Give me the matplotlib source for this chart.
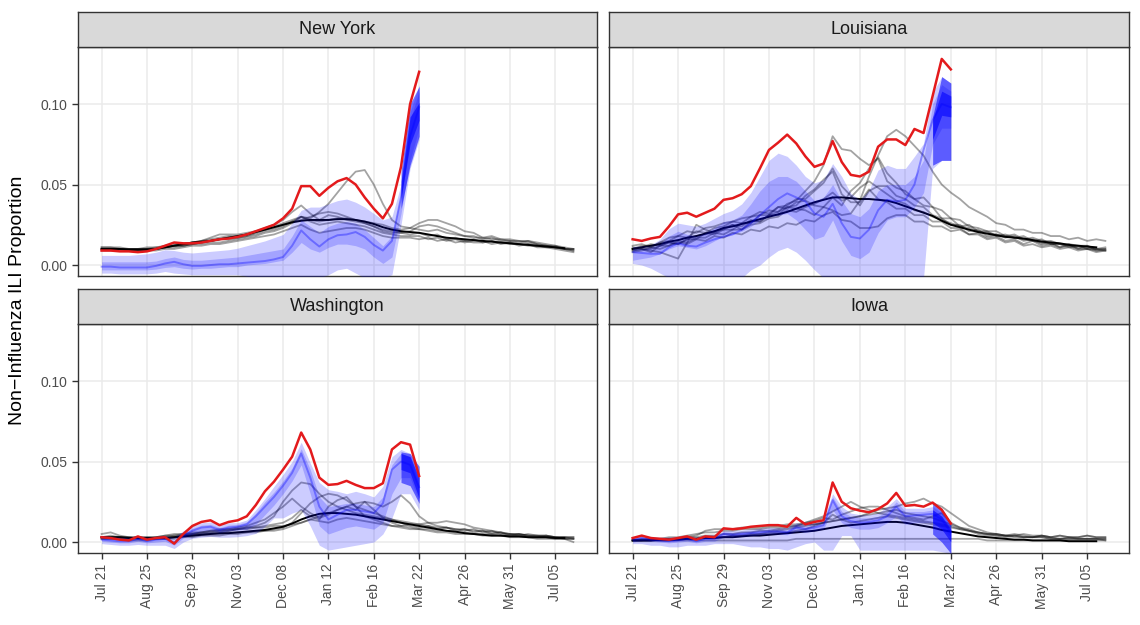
import numpy as np
import matplotlib
matplotlib.use("Agg")
import matplotlib.pyplot as plt

plt.rcParams['font.family'] = ['Liberation Sans', 'DejaVu Sans']

# ---------------- data (values in per-mille: 1 = 0.001 proportion) ----------------
states = ["New York", "Louisiana", "Washington", "Iowa"]
tick_weeks = [0, 5, 10, 15, 20, 25, 30, 35, 40, 45, 50]
tick_labels = ["Jul 21", "Aug 25", "Sep 29", "Nov 03", "Dec 08", "Jan 12",
               "Feb 16", "Mar 22", "Apr 26", "May 31", "Jul 05"]
y_ticks = [0.0, 0.05, 0.10]
deep_weeks = [33, 34, 35]

# ---- New York ----
ny_red = [9, 9, 8.5, 8.5, 8, 8.5, 10, 12, 14, 13.5, 13.5, 14, 15, 16, 16.5, 17.5, 19, 21, 23, 25,
          29, 35, 49, 49, 43, 48, 52, 54, 50, 42, 35, 29, 38, 61, 100, 120]
ny_black = [10, 10, 10, 9.5, 9.5, 9.5, 10, 11, 12, 13, 14, 14.5, 15, 16, 17, 18, 19, 20.5, 22, 23.5,
            25, 26.5, 27.5, 28, 28, 28, 28.5, 28.5, 28, 27, 25.5, 23.5, 22, 21, 20.5, 20, 19, 18, 17, 16.5,
            16, 15.5, 15, 14.5, 14, 13.5, 13, 12.5, 12, 11.5, 11, 10.5]
ny_gray1 = [11, 11, 10, 10, 10, 10, 11, 11, 12, 12, 13, 13, 14, 14, 15, 16, 17, 18, 20, 21,
            23, 26, 30, 29, 33, 38, 45, 52, 58, 59, 50, 38, 28, 24, 23, 22, 21, 22, 20, 19,
            18, 18, 16, 17, 15, 15, 14, 15, 13, 12, 12, 10, 9]
ny_gray2 = [10, 10, 10, 9, 9, 10, 10, 12, 13, 13, 14, 15, 16, 17, 18, 18, 19, 21, 23, 25,
            28, 33, 37, 32, 28, 31, 30, 28, 27, 26, 24, 22, 21, 20, 19, 20, 18, 19, 16, 17,
            15, 16, 14, 15, 14, 14, 13, 13, 12, 12, 11, 10, 10]
ny_gray3 = [11, 11, 11, 10, 10, 10, 10, 11, 12, 13, 14, 15, 17, 19, 19, 19, 20, 21, 22, 24,
            26, 28, 30, 28, 27, 28, 29, 29, 28, 27, 26, 25, 23, 22, 23, 26, 28, 28, 26, 24,
            21, 20, 17, 18, 16, 16, 15, 15, 14, 13, 12, 11, 10]
ny_gray4 = [9, 9, 9, 9, 9, 9, 9, 10, 10, 11, 12, 12, 13, 13, 14, 15, 16, 17, 18, 19,
            21, 23, 25, 22, 20, 21, 22, 23, 23, 22, 20, 18, 17, 17, 17, 16, 17, 15, 16, 14,
            15, 14, 14, 15, 13, 14, 12, 13, 11, 11, 10, 9, 8]
ny_gray5 = [10, 10, 10, 10, 10, 11, 11, 12, 12, 12, 13, 14, 15, 16, 16, 17, 18, 19, 21, 22,
            24, 27, 30, 27, 25, 26, 27, 26, 25, 24, 22, 20, 19, 18, 18, 18, 16, 17, 15, 16,
            14, 15, 15, 13, 14, 13, 13, 12, 12, 11, 11, 10, 10]
ny_gray6 = [10, 10, 10, 10, 10, 10, 10, 11, 11, 12, 13, 14, 15, 16, 17, 17, 18, 20, 22, 23,
            25, 27, 28, 30, 32, 33, 32, 30, 28, 26, 24, 21, 20, 20, 21, 24, 25, 24, 22, 20,
            18, 17, 17, 16, 16, 15, 15, 14, 13, 12, 11, 10, 9]
ny_hi_out = [6, 6, 6, 6, 6.5, 7, 8, 9.5, 9, 8, 7.5, 8, 8.5, 9, 9.5, 10.5, 12, 13.5, 15, 17,
             19, 26, 34, 36, 36, 38, 40, 41, 39, 36, 32, 28, 30, 50, 95, 112]
ny_lo_out = [-5, -5, -5.5, -5.5, -5.5, -5.5, -5, -4, -5, -5.5, -6, -6, -6, -6, -6, -6, -7, -8, -8, -8,
             -8, -8, -8, -8, -8, -6, -3, -2, -5, -8, -8, -8, -6, 25, 60, 78]
ny_lo_mid = [-3, -3, -3, -3, -3, -3, -2.5, -1.5, -1, -2, -2.5, -2, -2, -1.5, -1, -1, 0, 0.5, 1, 2,
             3, 8, 14, 10, 8, 11, 13, 13, 12, 10, 5, 1, 5, 32, 65, 85]
ny_hi_mid = [2, 2, 2, 2, 2, 2, 2.5, 4, 5, 3.5, 3, 3, 3.5, 4, 4.5, 5, 6, 7, 8, 9,
             10, 18, 28, 24, 20, 24, 26, 27, 26, 22, 17, 12, 18, 45, 90, 108]
ny_median = [-1, -1, -1.5, -1.5, -1.5, -1.5, -0.5, 1, 2, 0.5, -0.5, -0.5, 0, 0.5, 0.5, 1, 1.5, 2, 2.5, 3.5,
             5, 12, 21.5, 16, 11.5, 16, 18.5, 19, 20.5, 17.5, 12.5, 9, 15, 42, 80, 98]
ny_deep_lo = [35, 62, 80]
ny_deep_hi = [58, 100, 111]
ny_core_lo = [42, 75, 90]
ny_core_hi = [52, 92, 101]

# ---- Louisiana ----
la_red = [16, 15, 16.5, 17.5, 24, 31.5, 32.5, 30, 32.5, 35, 40.5, 41.5, 44, 49, 60, 71.5, 76, 81, 75.5, 67.5,
          61, 63, 77, 64, 56, 55, 58, 73.5, 78, 78, 74.5, 84.5, 82, 105, 128, 121.5]
la_black = [10, 11, 12, 13, 14.5, 15.5, 17, 18, 19.5, 21, 23, 24, 25.5, 27, 28.5, 30, 31.5, 33, 35, 37,
            39, 40.5, 42, 42, 41.5, 41, 41, 40.5, 40, 38.5, 36.5, 34.5, 32.5, 30.5, 27.5, 25, 23.5, 22, 20.5, 19.5,
            18.5, 17.5, 17, 16.5, 15.5, 14.5, 14, 13.5, 12.5, 12, 11.5, 11]
la_gray1 = [10, 12, 11, 14, 15, 18, 17, 21, 20, 23, 24, 27, 26, 30, 31, 34, 33, 38, 40, 46,
            52, 62, 80, 72, 71, 66, 62, 66, 52, 48, 46, 41, 42, 36, 34, 29, 28, 24, 23, 21,
            21, 18, 19, 16, 17, 15, 15, 13, 13, 12, 12, 10, 11]
la_gray2 = [12, 13, 11, 14, 17, 18, 21, 20, 23, 24, 26, 27, 29, 30, 33, 32, 36, 35, 39, 40,
            37, 36, 34, 31, 32, 40, 55, 68, 80, 84, 80, 74, 68, 58, 50, 45, 41, 36, 33, 30,
            26, 25, 22, 22, 20, 20, 18, 18, 16, 17, 15, 16, 15]
la_gray3 = [9, 10, 8, 12, 14, 13, 16, 18, 19, 21, 22, 25, 24, 28, 27, 31, 33, 36, 35, 34,
            31, 36, 42, 37, 46, 51, 60, 67, 57, 51, 44, 41, 37, 36, 29, 29, 24, 25, 21, 21,
            18, 19, 17, 18, 15, 16, 13, 13, 11, 12, 10, 10, 9]
la_gray4 = [11, 10, 9, 8, 6, 4, 14, 25, 22, 20, 23, 25, 22, 27, 27, 31, 31, 36, 37, 43,
            47, 53, 58, 44, 39, 39, 47, 41, 39, 35, 35, 31, 31, 27, 27, 23, 23, 19, 20, 17,
            18, 15, 16, 13, 15, 12, 13, 11, 12, 10, 10, 9, 9]
la_gray5 = [8, 9, 11, 10, 12, 14, 13, 16, 15, 18, 17, 20, 19, 22, 21, 24, 23, 26, 25, 28,
            27, 31, 33, 28, 27, 23, 23, 24, 29, 31, 31, 27, 27, 24, 24, 21, 22, 19, 19, 16,
            17, 14, 15, 12, 13, 11, 12, 10, 11, 9, 10, 8, 9]
la_gray6 = [10, 11, 13, 12, 14, 13, 16, 16, 20, 19, 22, 22, 26, 26, 31, 31, 36, 37, 41, 41,
            46, 51, 60, 49, 43, 37, 46, 49, 49, 43, 41, 37, 36, 31, 29, 25, 25, 21, 22, 18,
            19, 17, 18, 15, 16, 13, 14, 11, 13, 10, 12, 9, 10]
la_gray7 = [9, 10, 10, 12, 12, 15, 14, 17, 17, 20, 19, 22, 22, 25, 26, 29, 30, 34, 33, 36,
            38, 41, 45, 40, 42, 48, 52, 48, 44, 40, 38, 34, 33, 30, 28, 26, 24, 23, 21, 20,
            19, 18, 17, 16, 15, 14, 13, 13, 12, 11, 11, 10, 10]
la_hi_out = [11.5, 12, 12.5, 16, 22.5, 26, 25, 24, 26, 29, 32, 34, 38, 45, 55, 65, 69.5, 67.5, 62, 55,
             51, 53, 63, 55, 44.5, 40.5, 46.5, 59, 62, 60, 60, 67.5, 75.5, 107, 117, 113]
la_lo_out = [1, 0, -2, -5, -8, -8, -8, -8, -8, -8, -8, -8, -8, -3, 0, 5, 9, 11, 8, 3,
             -3, -8, -8, -8, -8, -8, -8, -8, -8, -8, -8, -8, -8, 60, 65, 65]
la_lo_mid = [3, 4, 5, 7, 10, 12, 11, 10, 12, 15, 18, 19, 21, 24, 28, 30, 31, 32, 28, 22,
             16, 18, 28, 15, 6, 4, 8, 20, 28, 30, 30, 36, 45, 75, 85, 85]
la_hi_mid = [10, 10, 11, 13, 18, 21, 19, 18, 20, 23, 27, 28, 31, 38, 46, 52, 55, 55, 52, 46,
             40, 42, 50, 40, 32, 30, 35, 46, 50, 50, 50, 55, 65, 100, 112, 108]
la_median = [8, 7.5, 7, 7, 11, 13.5, 12, 11.5, 14, 16, 17.5, 19, 22, 26, 31, 36, 41, 44.5, 42, 39.5,
             32, 30, 38, 26, 17.5, 16.5, 22, 34, 40.5, 39.5, 40.5, 50, 71.5, 90, 100, 98]
la_deep_lo = [62, 65, 65]
la_deep_hi = [92, 117, 113]
la_core_lo = [78, 93, 92]
la_core_hi = [90, 108, 105]

# ---- Washington ----
wa_red = [3, 2.5, 1.5, 1, 3.5, 1.5, 2.5, 3, -1, 5, 10, 12.5, 13.5, 10.5, 12.5, 13.5, 16, 23, 31.5, 37.5,
          45, 53, 68, 57.5, 40, 35.5, 36, 38, 35.5, 33.5, 33.5, 36.5, 57.5, 62, 60.5, 41]
wa_black = [3, 3, 3, 2.5, 2.5, 2.5, 2.5, 2.5, 3, 3.5, 4, 4.5, 5, 5.5, 5.5, 6, 6.5, 7, 7.5, 8.5,
            9.5, 11.5, 14, 16, 17.5, 18, 18, 17.5, 17, 16, 15, 14, 13, 12, 11, 10, 9, 8, 7, 6.5,
            5.5, 5, 4.5, 4, 4, 3.5, 3.5, 3, 3, 3, 2.5, 2.5]
wa_gray1 = [3, 4, 3, 2, 3, 2, 2, 3, 3, 4, 5, 5, 6, 6, 7, 8, 9, 10, 12, 16,
            25, 32, 37, 36, 30, 25, 22, 20, 18, 17, 16, 15, 14, 13, 12, 11, 10, 9, 9, 8,
            7, 8, 6, 7, 5, 5, 4, 5, 4, 3, 3, 2, 0]
wa_gray2 = [2, 2, 2, 2, 2, 2, 3, 3, 4, 4, 4, 5, 5, 5, 6, 6, 6, 7, 7, 8,
            9, 12, 18, 24, 28, 30, 29, 26, 22, 20, 18, 16, 14, 12, 10, 9, 10, 8, 9, 7,
            8, 6, 7, 5, 6, 4, 5, 4, 3, 4, 3, 3, 2]
wa_gray3 = [5, 6, 4, 3, 3, 3, 3, 4, 4, 5, 5, 6, 6, 7, 7, 8, 8, 9, 9, 10,
            10, 11, 12, 14, 16, 18, 20, 22, 24, 25, 24, 22, 25, 29, 24, 16, 12, 10, 9, 8,
            8, 7, 7, 6, 6, 5, 5, 4, 4, 4, 3, 3, 3]
wa_gray4 = [3, 3, 3, 3, 2, 2, 2, 2, 3, 4, 5, 6, 7, 7, 8, 8, 9, 9, 10, 11,
            12, 15, 20, 16, 14, 22, 26, 28, 22, 16, 14, 12, 10, 10, 11, 11, 12, 12, 13, 12,
            11, 9, 8, 7, 6, 5, 5, 4, 4, 4, 3, 3, 3]
wa_gray5 = [2, 2, 2, 1, 1, 1, 2, 2, 2, 3, 3, 4, 4, 4, 5, 5, 6, 6, 7, 7,
            8, 10, 12, 14, 13, 12, 14, 15, 14, 13, 12, 11, 10, 9, 8, 8, 7, 6, 6, 5,
            5, 5, 4, 4, 4, 3, 3, 3, 2, 2, 2, 2, 2]
wa_gray6 = [3, 3, 3, 3, 3, 3, 3, 4, 5, 5, 6, 6, 7, 8, 8, 9, 10, 12, 14, 18,
            22, 27, 22, 18, 15, 17, 20, 22, 20, 25, 20, 15, 12, 10, 9, 8, 8, 7, 7, 6,
            6, 5, 5, 5, 4, 4, 4, 3, 3, 3, 2, 2, 2]
wa_hi_out = [4, 3.5, 3, 3, 4, 3, 3.5, 4, 3, 7, 10, 12, 12.5, 11, 12, 12, 13.7, 20, 27, 34.6,
             42, 50, 62, 49, 37, 32.5, 31.5, 30, 31.5, 30, 28, 34.6, 53, 57.5, 55, 35]
wa_lo_out = [-1, -1.5, -2, -2, -1.5, -2, -2, -2, -4, 0, 2.3, 3, 3.5, 3, 3, 3.3, 4, 5.4, 9.6, 15,
             15, 18, 20, 10, -2, -5, -4, -3, -2, -1, 0, 5, 15, 30, 30, 20]
wa_lo_mid = [0.5, 0, -0.5, -0.5, 0.5, -0.5, 0, 0.5, -2, 2.5, 5, 7, 7.5, 6, 7, 7.5, 8, 11, 17, 23,
             30, 38, 48, 30, 10, 5, 7, 9, 10, 9, 8, 12, 30, 40, 40, 25]
wa_hi_mid = [2.5, 2, 1.5, 1.5, 3, 1.5, 2.5, 3, 1, 5.5, 8.5, 10.5, 11, 9, 10.5, 11, 12.5, 18, 25, 31,
             38, 46, 58, 45, 28, 22, 23, 24, 24, 23, 22, 28, 48, 55, 53, 32]
wa_median = [1.5, 1, 0.5, 0.5, 2, 0.5, 1.5, 2, -0.5, 4, 7, 9, 9.5, 7.5, 9, 9.5, 11, 16, 22, 28,
             35, 43, 55, 40, 22, 14, 17, 20, 20, 19, 18, 24, 45, 50, 48, 34]
wa_deep_lo = [37, 35, 24]
wa_deep_hi = [56, 55, 47]
wa_core_lo = [45, 43, 27]
wa_core_hi = [55, 53, 40]

# ---- Iowa ----
ia_red = [2.5, 4, 2.5, 2, 1.5, 2.5, 3.5, 1.5, 3.5, 3, 8.5, 8, 8.5, 9.5, 10, 10.5, 10.5, 9.5, 15, 11,
          12.5, 13.5, 37, 25, 21, 19.5, 18.5, 20.5, 24, 30.5, 22.5, 23, 22, 24.5, 20, 11.5]
ia_black = [1, 1, 1, 1.5, 1.5, 1.5, 2, 2, 2.5, 2.5, 3, 3, 3.5, 4, 4, 4.5, 5, 5.5, 6, 6.5,
            7, 8, 9, 10, 10.5, 11, 11.5, 12, 12.5, 12.5, 12, 11, 10, 9, 7.5, 6.5, 5.5, 4.5, 3.5, 3,
            2.5, 2, 1.5, 1.5, 1, 1, 1, 1, 0.5, 0.5, 0.5, 0.5]
ia_gray1 = [1, 1, 2, 2, 2, 2, 3, 3, 4, 4, 5, 5, 6, 6, 7, 7, 8, 9, 10, 12,
            14, 16, 19, 22, 25, 22, 20, 18, 17, 16, 15, 14, 13, 12, 11, 10, 8, 7, 6, 5,
            5, 4, 5, 4, 3, 4, 3, 4, 3, 3, 4, 3, 3]
ia_gray2 = [1, 1, 1, 1, 1, 2, 2, 2, 3, 3, 3, 4, 4, 5, 5, 6, 7, 8, 9, 10,
            11, 12, 13, 14, 15, 16, 18, 20, 21, 22, 24, 25, 27, 24, 22, 18, 14, 10, 8, 6,
            5, 4, 4, 3, 3, 3, 2, 2, 2, 2, 2, 2, 1]
ia_gray3 = [1, 1, 1, 2, 2, 2, 3, 4, 7, 8, 8, 8, 9, 9, 9, 10, 10, 11, 11, 12,
            13, 15, 14, 17, 19, 21, 22, 22, 20, 18, 16, 15, 14, 16, 18, 12, 9, 7, 5, 4,
            4, 3, 4, 3, 3, 4, 3, 2, 3, 2, 2, 2, 2]
ia_gray4 = [1, 1, 1, 1, 1, 1, 1, 1, 1, 1, 1, 1, 1, 1, 1, 1, 1, 1, 2, 2,
            2, 2, 2, 2, 2, 2, 2, 2, 2, 2, 2, 2, 2, 2, 2, 2, 2, 2, 2, 1,
            1, 1, 1, 1, 1, 1, 1, 1, 1, 1, 1, 1, 1]
ia_gray5 = [1, 2, 2, 2, 3, 3, 4, 5, 6, 6, 7, 7, 8, 8, 8, 9, 9, 10, 10, 11,
            11, 12, 13, 14, 15, 16, 17, 18, 19, 20, 18, 17, 16, 15, 13, 11, 9, 8, 6, 5,
            5, 4, 4, 5, 4, 4, 3, 4, 3, 3, 4, 3, 3]
ia_gray6 = [1, 1, 1, 1, 1, 2, 2, 2, 3, 3, 3, 4, 4, 4, 5, 5, 6, 6, 7, 8,
            10, 12, 17, 14, 12, 13, 14, 15, 16, 15, 14, 13, 12, 11, 10, 9, 8, 7, 6, 5,
            4, 4, 3, 3, 3, 3, 2, 2, 2, 2, 2, 2, 2]
ia_hi_out = [3, 4, 3.5, 3, 3, 3.5, 4, 3, 4.5, 4.5, 7, 7, 7.5, 8, 8.5, 9, 9, 9, 12, 11,
             12, 14, 30, 22, 18, 17, 17, 18, 22, 27, 21, 21, 21, 22, 18, 10]
ia_lo_out = [-1, -1, -2, -2, -3, -3, -2, -2, -2, -1, -1, -1, -2, -3, -3, -4, -4, -5, -3, -1,
             0, -5, -5, 4, 4, -5, -5, -5, -5, -5, -5, -5, -5, -5, -6, -7]
ia_lo_mid = [0, 1, 0.5, 0, -0.5, 0, 0.5, -0.5, 0.5, 0.5, 3, 3, 3.5, 4, 4.5, 5, 5, 4.5, 7, 6,
             7, 8, 20, 12, 9, 8, 8, 9, 12, 16, 11, 12, 12, 12, 9, 3]
ia_hi_mid = [2.5, 3.5, 2.5, 2, 1.5, 2.5, 3, 1.5, 3, 3, 6.5, 6, 6.5, 7, 7.5, 8, 8, 7.5, 11, 9.5,
             10.5, 12, 28, 19, 16, 15, 15, 16, 19, 25, 19, 19, 19, 20, 16, 8]
ia_median = [1.5, 2.5, 1.5, 1, 0.5, 1, 2, 0.5, 2, 2, 5, 4.5, 5, 5.5, 6, 6.5, 6.5, 6, 9, 8,
             9, 10.5, 26, 16, 13, 12, 12.5, 13.5, 16, 22, 16, 16.5, 17, 17.5, 14, 6]
ia_deep_lo = [5, 0, -7]
ia_deep_hi = [25, 21, 12]
ia_core_lo = [12, 8, 0]
ia_core_hi = [20, 16, 8]

panels = {
    "New York": dict(red=ny_red, black=ny_black,
                     gray=[ny_gray1, ny_gray2, ny_gray3, ny_gray4, ny_gray5, ny_gray6],
                     hi_out=ny_hi_out, lo_out=ny_lo_out, lo_mid=ny_lo_mid, hi_mid=ny_hi_mid,
                     median=ny_median, deep_lo=ny_deep_lo, deep_hi=ny_deep_hi,
                     core_lo=ny_core_lo, core_hi=ny_core_hi),
    "Louisiana": dict(red=la_red, black=la_black,
                      gray=[la_gray1, la_gray2, la_gray3, la_gray4, la_gray5, la_gray6, la_gray7],
                      hi_out=la_hi_out, lo_out=la_lo_out, lo_mid=la_lo_mid, hi_mid=la_hi_mid,
                      median=la_median, deep_lo=la_deep_lo, deep_hi=la_deep_hi,
                      core_lo=la_core_lo, core_hi=la_core_hi),
    "Washington": dict(red=wa_red, black=wa_black,
                       gray=[wa_gray1, wa_gray2, wa_gray3, wa_gray4, wa_gray5, wa_gray6],
                       hi_out=wa_hi_out, lo_out=wa_lo_out, lo_mid=wa_lo_mid, hi_mid=wa_hi_mid,
                       median=wa_median, deep_lo=wa_deep_lo, deep_hi=wa_deep_hi,
                       core_lo=wa_core_lo, core_hi=wa_core_hi),
    "Iowa": dict(red=ia_red, black=ia_black,
                 gray=[ia_gray1, ia_gray2, ia_gray3, ia_gray4, ia_gray5, ia_gray6],
                 hi_out=ia_hi_out, lo_out=ia_lo_out, lo_mid=ia_lo_mid, hi_mid=ia_hi_mid,
                 median=ia_median, deep_lo=ia_deep_lo, deep_hi=ia_deep_hi,
                 core_lo=ia_core_lo, core_hi=ia_core_hi),
}

# ---------------- figure ----------------
W, H = 1140, 625
fig = plt.figure(figsize=(W / 100, H / 100), dpi=100)

def fx(px):
    return px / W

def fy(py):
    return 1 - py / H

cols = [(78, 597), (609, 1129)]
rows = [(12, 47, 276), (289, 324, 553)]

edge = "#333333"

def pm(v):
    return np.asarray(v, dtype=float) / 1000.0

for i, st in enumerate(states):
    r, c = divmod(i, 2)
    x0, x1 = cols[c]
    s_top, p_top, p_bot = rows[r]
    ax = fig.add_axes([fx(x0), fy(p_bot), fx(x1 - x0), (p_bot - p_top) / H])
    sax = fig.add_axes([fx(x0), fy(p_top), fx(x1 - x0), (p_top - s_top) / H])

    d = panels[st]
    ax.set_axisbelow(True)
    ax.grid(True, color="#EBEBEB", linewidth=1.1)

    for g in d["gray"]:
        gw = np.arange(len(g))
        ax.plot(gw, pm(g), color="black", alpha=0.36, linewidth=1.3, zorder=2)
    bw = np.arange(len(d["black"]))
    ax.plot(bw, pm(d["black"]), color="black", linewidth=1.4, zorder=3)

    w = np.arange(len(d["hi_out"]))
    ax.fill_between(w, pm(d["lo_out"]), pm(d["hi_out"]), color="#0000FF", alpha=0.2,
                    linewidth=0, zorder=4)
    ax.fill_between(w, pm(d["lo_mid"]), pm(d["hi_mid"]), color="#0000FF", alpha=0.2,
                    linewidth=0, zorder=4)
    ax.plot(w, pm(d["median"]), color="#0000FF", alpha=0.35, linewidth=1.4, zorder=4)
    ax.fill_between(deep_weeks, pm(d["deep_lo"]), pm(d["deep_hi"]), color="#0000FF",
                    alpha=0.55, linewidth=0, zorder=5)
    ax.fill_between(deep_weeks, pm(d["core_lo"]), pm(d["core_hi"]), color="#0000FF",
                    alpha=0.6, linewidth=0, zorder=5)

    rw = np.arange(len(d["red"]))
    ax.plot(rw, pm(d["red"]), color="#E31A1C", linewidth=1.8, zorder=6)

    ax.set_xlim(-2.6, 54.6)
    ax.set_ylim(-0.0068, 0.1354)
    ax.set_xticks(tick_weeks)
    ax.set_yticks(y_ticks)
    for sp in ax.spines.values():
        sp.set_color(edge)
        sp.set_linewidth(1.0)
    ax.tick_params(axis="both", colors=edge, length=4, width=1.0,
                   labelsize=10, labelcolor="#4D4D4D")
    if r == 1:
        ax.set_xticklabels(tick_labels, rotation=90, va="top", ha="center")
    else:
        ax.tick_params(axis="x", length=0, labelbottom=False)
    if c == 0:
        ax.set_yticklabels([f"{v:.2f}" for v in y_ticks])
    else:
        ax.tick_params(axis="y", length=0, labelleft=False)

    sax.set_facecolor("#D9D9D9")
    sax.set_xticks([])
    sax.set_yticks([])
    for sp in sax.spines.values():
        sp.set_color(edge)
        sp.set_linewidth(1.0)
    sax.text(0.5, 0.5, st, ha="center", va="center", fontsize=13,
             color="#1A1A1A", transform=sax.transAxes)

fig.text(fx(18), fy(300), "Non\u2212Influenza ILI Proportion", rotation=90,
         ha="center", va="center", fontsize=14, color="black")

fig.savefig("out.png", dpi=100)
